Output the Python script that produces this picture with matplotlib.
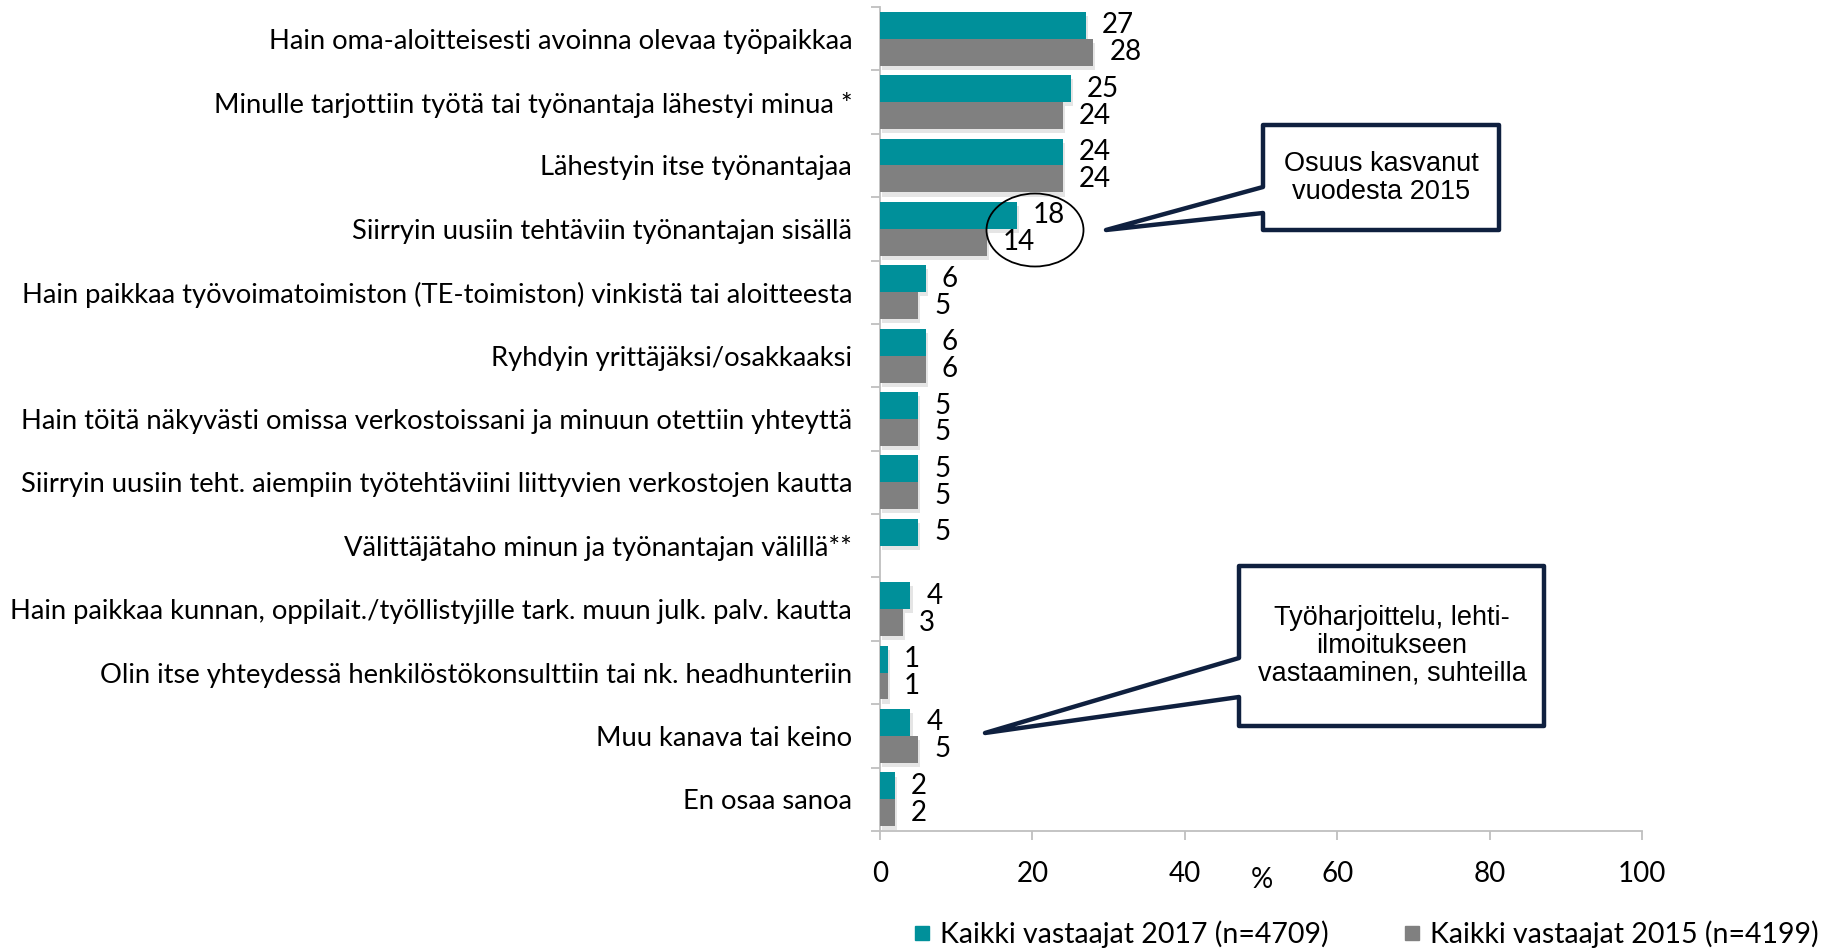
import numpy as np
import matplotlib
matplotlib.use("Agg")
import matplotlib.pyplot as plt
from matplotlib.patches import Polygon, Ellipse
from matplotlib.lines import Line2D
import matplotlib.patheffects as pe

categories = [
    "Hain oma-aloitteisesti avoinna olevaa työpaikkaa",
    "Minulle tarjottiin työtä tai työnantaja lähestyi minua *",
    "Lähestyin itse työnantajaa",
    "Siirryin uusiin tehtäviin työnantajan sisällä",
    "Hain paikkaa työvoimatoimiston (TE-toimiston) vinkistä tai aloitteesta",
    "Ryhdyin yrittäjäksi/osakkaaksi",
    "Hain töitä näkyvästi omissa verkostoissani ja minuun otettiin yhteyttä",
    "Siirryin uusiin teht. aiempiin työtehtäviini liittyvien verkostojen kautta",
    "Välittäjätaho minun ja työnantajan välillä**",
    "Hain paikkaa kunnan, oppilait./työllistyjille tark. muun julk. palv. kautta",
    "Olin itse yhteydessä henkilöstökonsulttiin tai nk. headhunteriin",
    "Muu kanava tai keino",
    "En osaa sanoa",
]
values_2017 = [27, 25, 24, 18, 6, 6, 5, 5, 5, 4, 1, 4, 2]
values_2015 = [28, 24, 24, 14, 5, 6, 5, 5, np.nan, 3, 1, 5, 2]
series_names = ["Kaikki vastaajat 2017 (n=4709)", "Kaikki vastaajat 2015 (n=4199)"]
xticks = [0, 20, 40, 60, 80, 100]

TEAL = "#00909A"
GRAY = "#808080"
NAVY = "#0F203F"
AXC = "#BFBFBF"
FONT = "Lato"

W, H = 1837, 948
fig = plt.figure(figsize=(W / 100, H / 100), dpi=100)
ax = fig.add_axes([880 / W, 1 - 831 / H, (1642 - 880) / W, (831 - 7) / H])

y = np.arange(len(categories))
bh = 0.425
shadow = [pe.SimplePatchShadow(offset=(1.5, -3), shadow_rgbFace="#aaaaaa", alpha=0.3), pe.Normal()]
b1 = ax.barh(y - bh / 2, values_2017, height=bh, color=TEAL, zorder=3)
b2 = ax.barh(y + bh / 2, values_2015, height=bh, color=GRAY, zorder=3)
for b in list(b1) + list(b2):
    b.set_path_effects(shadow)

for vals, off in ((values_2017, -bh / 2), (values_2015, bh / 2)):
    for i, v in enumerate(vals):
        if np.isnan(v):
            continue
        ax.annotate(f"{v:g}", (v, i + off), xytext=(11.5, 0), textcoords="offset points",
                    ha="left", va="center", fontsize=20, family=FONT, color="black", zorder=4)

ax.set_xlim(0, 100)
ax.set_ylim(len(categories) - 0.5, -0.5)
ax.set_xticks(xticks)
ax.set_xticklabels([str(t) for t in xticks], family=FONT, fontsize=20)
ax.set_yticks(y)
ax.set_yticklabels(categories, family=FONT, fontsize=19.7)
ax.set_yticks(np.arange(-0.5, len(categories)), minor=True)
ax.tick_params(axis="y", which="major", length=0, pad=20)
ax.tick_params(axis="y", which="minor", length=6.5, width=1.3, color=AXC, direction="out")
ax.tick_params(axis="x", which="major", length=6.5, width=1.3, color=AXC, direction="out", pad=15)
for s in ("top", "right"):
    ax.spines[s].set_visible(False)
for s in ("left", "bottom"):
    ax.spines[s].set_color(AXC)
    ax.spines[s].set_linewidth(1.3)

fig.text(1262 / W, 1 - 880 / H, "%", ha="center", va="center", family=FONT, fontsize=20)

handles = [Line2D([], [], marker="s", linestyle="none", markersize=10, color=TEAL),
           Line2D([], [], marker="s", linestyle="none", markersize=10, color=GRAY)]
fig.legend(handles, series_names, loc="center", bbox_to_anchor=(1366 / W, 1 - 934 / H), ncol=2,
           frameon=False, prop={"family": FONT, "size": 20.5}, handlelength=0.6,
           handletextpad=0.35, columnspacing=2.6, borderpad=0)


def px(pts):
    return [(xx / W, 1 - yy / H) for xx, yy in pts]


callout1 = [(1263, 125), (1499, 125), (1499, 230), (1263, 230), (1263, 213), (1106, 230), (1263, 187)]
callout2 = [(1239, 566), (1544, 566), (1544, 726), (1239, 726), (1239, 697), (985, 733), (1239, 658)]
for poly in (callout1, callout2):
    fig.patches.append(Polygon(px(poly), closed=True, transform=fig.transFigure, facecolor="white",
                               edgecolor=NAVY, linewidth=3.2, joinstyle="round", zorder=5))

fig.text(1381 / W, 1 - 178 / H, "Osuus kasvanut\nvuodesta 2015", ha="center", va="center",
         family="Liberation Sans", fontsize=19.5, linespacing=1.1, zorder=6)
fig.text(1392 / W, 1 - 646 / H, "Työharjoittelu, lehti-\nilmoitukseen\nvastaaminen, suhteilla",
         ha="center", va="center", family="Liberation Sans", fontsize=19.5, linespacing=1.1, zorder=6)

fig.patches.append(Ellipse((1035 / W, 1 - 230 / H), 97 / W, 73 / H, transform=fig.transFigure,
                           facecolor="none", edgecolor="black", linewidth=1.3, zorder=6))

fig.savefig("out.png", dpi=100)
